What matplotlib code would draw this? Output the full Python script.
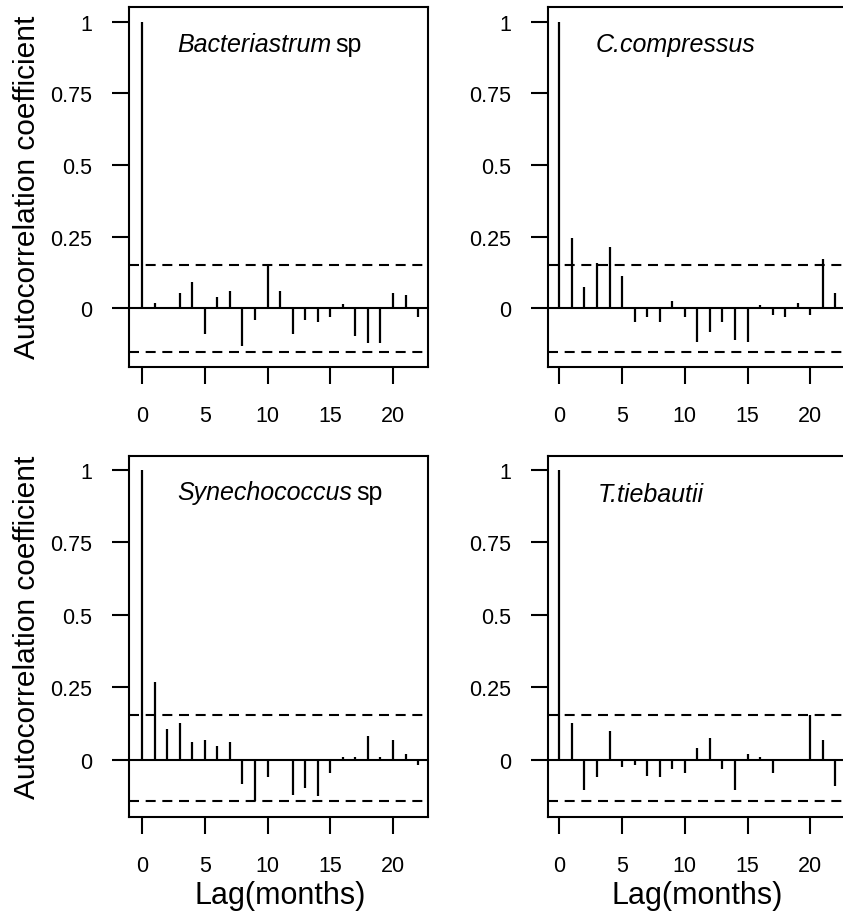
import numpy as np
import matplotlib
matplotlib.use("Agg")
import matplotlib.pyplot as plt

plt.rcParams['font.family'] = ['Liberation Sans', 'DejaVu Sans']

lags = list(range(23))

# autocorrelation coefficients
bacteriastrum = [1.0, 0.017, 0.003, 0.053, 0.09, -0.09, 0.037, 0.059, -0.134, -0.041,
                 0.152, 0.059, -0.09, -0.041, -0.049, -0.031, 0.015, -0.099, -0.121,
                 -0.121, 0.053, 0.047, -0.031]
compressus = [1.0, 0.244, 0.073, 0.157, 0.214, 0.112, -0.049, -0.031, -0.049, 0.024,
              -0.031, -0.119, -0.084, -0.049, -0.113, -0.119, 0.012, -0.026, -0.031,
              0.017, -0.026, 0.172, 0.053]
synechococcus = [1.0, 0.27, 0.105, 0.126, 0.061, 0.068, 0.047, 0.061, -0.083, -0.143,
                 -0.06, -0.003, -0.12, -0.097, -0.125, -0.045, 0.009, 0.009, 0.084,
                 0.011, 0.068, 0.02, -0.017]
tiebautii = [1.0, 0.126, -0.103, -0.06, 0.098, -0.025, -0.017, -0.054, -0.06, -0.033,
             -0.045, 0.04, 0.076, -0.033, -0.103, 0.02, 0.011, -0.045, 0.0, 0.0,
             0.155, 0.068, -0.089]

# confidence bounds (upper, lower) per row
ci_top = (0.149, -0.154)
ci_bottom = (0.153, -0.142)

ytick_vals = [0, 0.25, 0.5, 0.75, 1]
ytick_labels = ['0', '0.25', '0.5', '0.75', '1']
xtick_vals = [0, 5, 10, 15, 20]

panels = [
    # rect, values, name italic, suffix, ci, ylim, xlim, text pos
    ([0.1530, 0.5965, 0.3547, 0.3947], bacteriastrum, 'Bacteriastrum', 'sp', ci_top,
     (-0.206, 1.052), (-1.04, 22.79), (0.160, 0.879)),
    ([0.6501, 0.5965, 0.3547, 0.3947], compressus, 'C.compressus', '', ci_top,
     (-0.206, 1.052), (-0.9, 22.93), (0.160, 0.879)),
    ([0.1530, 0.1031, 0.3547, 0.3958], synechococcus, 'Synechococcus', 'sp', ci_bottom,
     (-0.197, 1.048), (-1.04, 22.79), (0.163, 0.881)),
    ([0.6501, 0.1031, 0.3547, 0.3958], tiebautii, 'T.tiebautii', '', ci_bottom,
     (-0.197, 1.048), (-0.9, 22.93), (0.167, 0.875)),
]

fig = plt.figure(figsize=(8.43, 9.12), dpi=100)

for rect, vals, name, suffix, ci, ylim, xlim, tpos in panels:
    ax = fig.add_axes(rect)
    ax.vlines(lags, 0, vals, color='black', lw=1.6)
    ax.axhline(0, color='black', lw=1.5)
    for c in ci:
        ax.axhline(c, color='black', lw=1.5, linestyle=(0, (4.8, 3.2)))
    ax.set_xlim(*xlim)
    ax.set_ylim(*ylim)
    ax.set_xticks(xtick_vals)
    ax.set_yticks(ytick_vals)
    ax.set_yticklabels(ytick_labels)
    for s in ax.spines.values():
        s.set_linewidth(1.5)
    ax.tick_params(axis='both', direction='out', length=12.5, width=1.5, labelsize=15.5)
    ax.tick_params(axis='x', pad=15)
    ax.tick_params(axis='y', pad=14)
    t = ax.text(tpos[0], tpos[1], name, transform=ax.transAxes, fontsize=18,
                style='italic', ha='left', va='baseline')
    if suffix:
        ax.annotate(suffix, xy=(1, 0), xycoords=t, xytext=(3, 0),
                    textcoords='offset points', fontsize=18, ha='left', va='bottom')

fig.text(0.0326, 1 - 187.5 / 912, 'Autocorrelation coefficient', rotation=90,
         fontsize=21.5, ha='center', va='center')
fig.text(0.0326, 1 - 627.5 / 912, 'Autocorrelation coefficient', rotation=90,
         fontsize=21.5, ha='center', va='center')
fig.text(280 / 843, 1 - 904 / 912, 'Lag(months)', fontsize=22, ha='center', va='baseline')
fig.text(697 / 843, 1 - 904 / 912, 'Lag(months)', fontsize=22, ha='center', va='baseline')

fig.savefig('out.png', dpi=100)
